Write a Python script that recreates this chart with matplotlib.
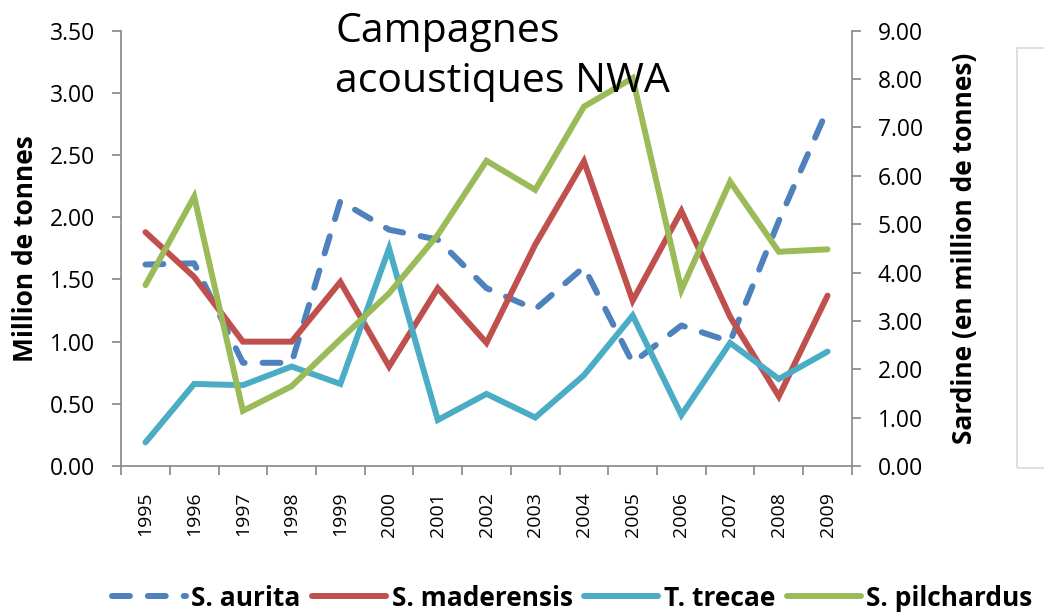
import matplotlib.pyplot as plt
import numpy as np
from matplotlib.patches import Rectangle

plt.rcParams['font.family'] = ['Open Sans', 'DejaVu Sans']

years = [str(y) for y in range(1995, 2010)]

# million tonnes (left axis)
s_aurita = [1.62, 1.63, 0.83, 0.83, 2.13, 1.90, 1.82, 1.43, 1.26, 1.60, 0.83, 1.13, 1.00, 1.97, 2.87]
s_maderensis = [1.88, 1.52, 1.00, 1.00, 1.48, 0.80, 1.43, 0.99, 1.78, 2.45, 1.33, 2.05, 1.20, 0.56, 1.37]
t_trecae = [0.19, 0.66, 0.65, 0.80, 0.66, 1.75, 0.37, 0.58, 0.39, 0.73, 1.21, 0.41, 0.99, 0.70, 0.92]
# sardine, million tonnes (right axis)
s_pilchardus = [3.74, 5.57, 1.14, 1.65, 2.62, 3.57, 4.78, 6.31, 5.71, 7.43, 8.02, 3.64, 5.88, 4.43, 4.48]


def main():
    fig = plt.figure(figsize=(10.44, 6.14), dpi=100)
    ax = fig.add_axes([0.116, 0.241, 0.700, 0.709])
    ax2 = ax.twinx()

    x = np.arange(len(years))
    lw = 4.3
    l1, = ax.plot(x, s_aurita, color="#4F81BD", lw=lw, dashes=(3.0, 3.0),
                  dash_capstyle="round", label="S. aurita")
    l2, = ax.plot(x, s_maderensis, color="#C0504D", lw=lw, solid_capstyle="round",
                  solid_joinstyle="miter", label="S. maderensis")
    l3, = ax.plot(x, t_trecae, color="#4BACC6", lw=lw, solid_capstyle="round",
                  solid_joinstyle="miter", label="T. trecae")
    l4, = ax2.plot(x, s_pilchardus, color="#9BBB59", lw=lw, solid_capstyle="round",
                   solid_joinstyle="miter", label="S. pilchardus")

    ax.set_xlim(-0.5, len(years) - 0.5)
    ax.set_ylim(0, 3.5)
    ax2.set_ylim(0, 9)
    ax.set_yticks(np.arange(0, 3.51, 0.5))
    ax.set_yticklabels([f"{v:.2f}" for v in np.arange(0, 3.51, 0.5)])
    ax2.set_yticks(np.arange(0, 9.01, 1))
    ax2.set_yticklabels([f"{v:.2f}" for v in np.arange(0, 9.01, 1)])

    ax.set_xticks(x)
    ax.set_xticklabels(years, rotation=90, fontsize=14)
    ax.set_xticks(np.arange(-0.5, len(years), 1), minor=True)
    ax.tick_params(axis="x", which="major", length=0, pad=18.5)
    ax.tick_params(axis="x", which="minor", length=6.5, color="#868686", width=1.2)
    ax.tick_params(axis="y", length=6.5, color="#868686", width=1.2, labelsize=16.5, pad=12)
    ax2.tick_params(axis="y", length=6.5, color="#868686", width=1.2, labelsize=16.5, pad=12)

    for a in (ax, ax2):
        a.spines["top"].set_visible(False)
        for side in ["left", "right", "bottom"]:
            a.spines[side].set_color("#868686")
            a.spines[side].set_linewidth(1.2)
    ax.spines["right"].set_visible(False)
    ax2.spines["left"].set_visible(False)
    ax2.spines["bottom"].set_visible(False)

    ax.set_ylabel("Million de tonnes", fontsize=19, fontweight="bold", labelpad=8)
    ax2.set_ylabel("Sardine (en million de tonnes)", fontsize=19, fontweight="bold", labelpad=20)

    fig.text(0.321, 0.982, "Campagnes\nacoustiques NWA", fontsize=29.5, va="top", ha="left",
             linespacing=1.32)

    fig.legend(handles=[l1, l2, l3, l4], loc="center", bbox_to_anchor=(0.548, 0.026),
               ncol=4, frameon=False, handlelength=2.8, handletextpad=0.2, columnspacing=0.45,
               prop={"weight": "bold", "size": 19})

    fig.patches.append(Rectangle((1017 / 1044, 1 - 468 / 614), 0.1, 420 / 614,
                                 transform=fig.transFigure, fill=False,
                                 edgecolor="#d9d9d9", lw=1.2))

    plt.savefig("out.png", dpi=100)


if __name__ == "__main__":
    main()
